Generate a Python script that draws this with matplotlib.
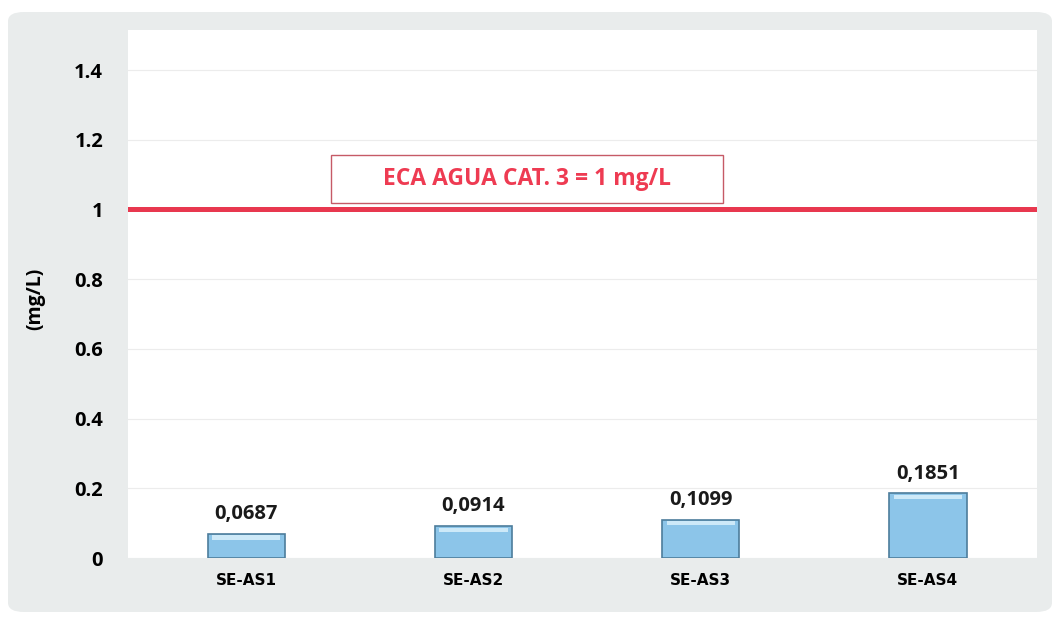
import numpy as np
import matplotlib
matplotlib.use('Agg')
import matplotlib.pyplot as plt
from matplotlib.patches import FancyBboxPatch, Rectangle

# Datos
estaciones = ['SE-AS1', 'SE-AS2', 'SE-AS3', 'SE-AS4']
valores = [0.0687, 0.0914, 0.1099, 0.1851]
etiquetas = ['0,0687', '0,0914', '0,1099', '0,1851']
eca = 1.0
eca_texto = 'ECA AGUA CAT. 3 = 1 mg/L'
yticks = [0, 0.2, 0.4, 0.6, 0.8, 1.0, 1.2, 1.4]
yticklabels = ['0', '0.2', '0.4', '0.6', '0.8', '1', '1.2', '1.4']

fuente = 'Open Sans'

fig = plt.figure(figsize=(10.61, 6.21), dpi=100)
fig.patch.set_facecolor('white')

# Fondo gris redondeado del grafico
fondo = FancyBboxPatch((8/1061, 9/621), 1044/1061, 600/621,
                       boxstyle='round,pad=0,rounding_size=0.015',
                       transform=fig.transFigure, facecolor='#e9ecec',
                       edgecolor='none', zorder=-10)
fig.patches.append(fondo)

ax = fig.add_axes([128/1061, 63/621, 909/1061, 528/621])
ax.set_facecolor('white')

x = np.arange(len(estaciones))
ax.bar(x, valores, width=0.34, color='#8cc5e9', edgecolor='#4d7d9c',
       linewidth=1.2, zorder=3)
# brillo superior de las barras
ax.bar(x, [0.012]*len(x), width=0.30, bottom=np.array(valores)-0.016,
       color='#cde9f8', edgecolor='none', zorder=4)

for xi, v, t in zip(x, valores, etiquetas):
    ax.annotate(t, (xi, v), xytext=(0, 7), textcoords='offset points',
                ha='center', va='bottom', fontsize=14.5, fontweight='bold',
                family=fuente, color='#1a1a1a')

# Linea del ECA
ax.axhline(eca, color='#e8384f', linewidth=3.6, zorder=5)
ax.add_patch(Rectangle((203/909, 1.018), 392/909, 0.138,
                       transform=ax.get_yaxis_transform(), facecolor='white',
                       edgecolor='#c65a66', linewidth=1, zorder=4))
ax.text(399/909, 1.087, eca_texto, transform=ax.get_yaxis_transform(),
        ha='center', va='center', fontsize=16.5, fontweight='bold',
        family=fuente, color='#ee3b52', zorder=6)

ax.set_xlim(-0.52, 3.48)
ax.set_ylim(0, 1.515)
ax.set_yticks(yticks)
ax.set_yticklabels(yticklabels, fontsize=14.5, fontweight='bold', family=fuente)
ax.set_xticks(x)
ax.set_xticklabels(estaciones, fontsize=11, fontweight='bold',
                   family='DejaVu Sans')
ax.tick_params(axis='y', length=0, pad=18)
ax.tick_params(axis='x', length=0, pad=11)
ax.grid(axis='y', color='#ececec', linewidth=0.8, zorder=0)
for s in ax.spines.values():
    s.set_visible(False)

ax.set_ylabel('(mg/L)', fontsize=14, fontweight='bold', family=fuente)
ax.yaxis.set_label_coords(-0.091, 0.49)

fig.savefig('out.png', dpi=100, facecolor=fig.get_facecolor())
